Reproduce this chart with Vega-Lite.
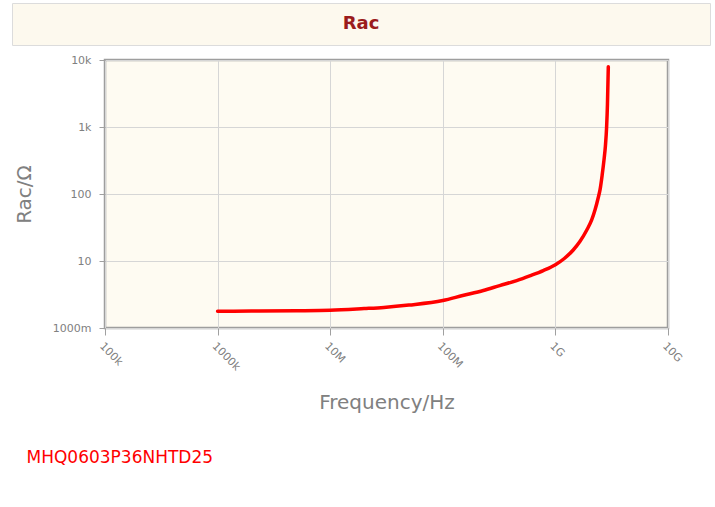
{
  "$schema": "https://vega.github.io/schema/vega-lite/v6.json",
  "background": "#ffffff",
  "padding": {"left": 11, "top": 2, "right": 5, "bottom": 5},
  "title": {
    "text": "MHQ0603P36NHTD25",
    "orient": "bottom",
    "anchor": "start",
    "frame": "bounds",
    "color": "#ff0000",
    "font": "DejaVu Sans",
    "fontSize": 17,
    "fontWeight": "normal",
    "offset": 37,
    "dx": 15
  },
  "datasets": {
    "header": [{"t": "Rac"}],
    "empty": [],
    "rac": [
      {"freq": 1000000, "rac": 1.78},
      {"freq": 2000000, "rac": 1.79},
      {"freq": 5000000, "rac": 1.81},
      {"freq": 10000000, "rac": 1.84},
      {"freq": 20000000, "rac": 1.95},
      {"freq": 30000000, "rac": 2.03},
      {"freq": 50000000, "rac": 2.2},
      {"freq": 100000000, "rac": 2.57},
      {"freq": 150000000, "rac": 3.05},
      {"freq": 229000000, "rac": 3.63},
      {"freq": 320000000, "rac": 4.3},
      {"freq": 453000000, "rac": 5.1},
      {"freq": 600000000, "rac": 6.05},
      {"freq": 780000000, "rac": 7.2},
      {"freq": 1000000000, "rac": 8.8},
      {"freq": 1200000000, "rac": 10.9},
      {"freq": 1440000000, "rac": 14.6},
      {"freq": 1650000000, "rac": 19.5},
      {"freq": 1900000000, "rac": 29},
      {"freq": 2100000000, "rac": 41},
      {"freq": 2250000000, "rac": 58},
      {"freq": 2400000000, "rac": 88},
      {"freq": 2490000000, "rac": 115},
      {"freq": 2600000000, "rac": 190},
      {"freq": 2700000000, "rac": 320},
      {"freq": 2780000000, "rac": 520},
      {"freq": 2850000000, "rac": 1000},
      {"freq": 2900000000, "rac": 2200},
      {"freq": 2950000000, "rac": 7900}
    ]
  },
  "spacing": 6,
  "bounds": "full",
  "vconcat": [
    {
      "width": 698,
      "height": 42,
      "view": {"fill": "#fdf9ee", "stroke": "#dcdcdc", "strokeWidth": 1},
      "data": {"name": "header"},
      "mark": {
        "type": "text",
        "font": "DejaVu Sans",
        "fontSize": 18,
        "fontWeight": "bold",
        "color": "#9b1c1c",
        "align": "center",
        "baseline": "middle"
      },
      "encoding": {"text": {"field": "t", "type": "nominal"}}
    },
    {
      "spacing": 0,
      "bounds": "full",
      "hconcat": [
        {
          "width": 1,
          "height": 1,
          "view": {"stroke": null, "fill": null},
          "data": {"name": "empty"},
          "mark": {"type": "point", "opacity": 0},
          "encoding": {}
        },
        {
          "width": 563,
          "height": 268,
          "view": {"fill": "#fefbf2", "stroke": "#9e9e9e", "strokeWidth": 2.5},
          "data": {"name": "rac"},
          "mark": {
            "type": "line",
            "color": "#ff0000",
            "strokeWidth": 3.5,
            "interpolate": "monotone",
            "strokeCap": "round",
            "clip": true
          },
          "encoding": {
            "x": {
              "field": "freq",
              "type": "quantitative",
              "scale": {"type": "log", "domain": [100000, 10000000000], "nice": false},
              "axis": {
                "title": "Frequency/Hz",
                "values": [100000, 1000000, 10000000, 100000000, 1000000000, 10000000000],
                "labelExpr": "datum.value >= 9e9 ? '10G' : datum.value >= 9e8 ? '1G' : datum.value >= 9e7 ? '100M' : datum.value >= 9e6 ? '10M' : datum.value >= 9e5 ? '1000k' : '100k'",
                "labelAngle": 45,
                "labelAlign": "left",
                "labelBaseline": "top",
                "labelPadding": 5,
                "labelFont": "DejaVu Sans",
                "labelFontSize": 11,
                "labelColor": "#808080",
                "labelFlush": false,
                "labelOverlap": false,
                "tickSize": 7,
                "tickColor": "#a0a0a0",
                "domain": false,
                "grid": true,
                "gridColor": "#d6d6d6",
                "titleFont": "DejaVu Sans",
                "titleFontSize": 20,
                "titleFontWeight": "normal",
                "titleColor": "#808080",
                "titlePadding": 20
              }
            },
            "y": {
              "field": "rac",
              "type": "quantitative",
              "scale": {"type": "log", "domain": [1, 10000], "nice": false},
              "axis": {
                "title": "Rac/Ω",
                "values": [1, 10, 100, 1000, 10000],
                "labelExpr": "datum.value >= 9000 ? '10k' : datum.value >= 900 ? '1k' : datum.value >= 90 ? '100' : datum.value >= 9 ? '10' : '1000m'",
                "labelFont": "DejaVu Sans",
                "labelFontSize": 11,
                "labelColor": "#808080",
                "labelPadding": 8,
                "labelFlush": false,
                "labelOverlap": false,
                "tickSize": 6,
                "tickColor": "#a0a0a0",
                "domain": false,
                "grid": true,
                "gridColor": "#d6d6d6",
                "titleFont": "DejaVu Sans",
                "titleFontSize": 20,
                "titleFontWeight": "normal",
                "titleColor": "#808080",
                "titlePadding": 18
              }
            }
          }
        }
      ]
    }
  ]
}
